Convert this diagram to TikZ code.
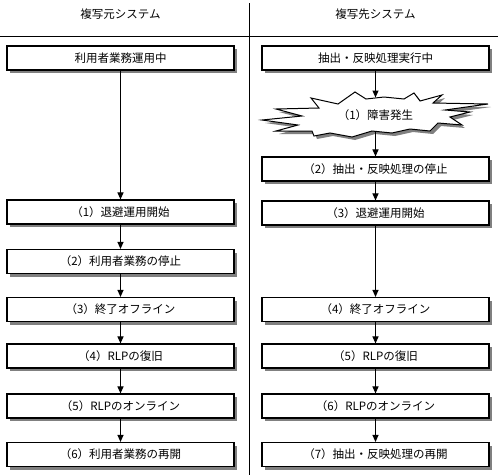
\documentclass[tikz,border=0pt]{standalone}
\usepackage{fontspec}
\setmainfont{Noto Sans CJK JP}
\usetikzlibrary{arrows.meta,shadows}

\tikzset{
  stepbox/.style={draw=black, line width=1.1pt, fill=white, minimum width=227pt, minimum height=24pt, inner sep=0pt,
    drop shadow={shadow xshift=3pt, shadow yshift=-3pt, fill=gray, opacity=1}},
  flow/.style={-{Triangle[width=6pt,length=7pt]}, line width=1pt},
}

\begin{document}
\begin{tikzpicture}[x=1pt, y=-1pt, font=\fontsize{11.5}{13}\selectfont]
\useasboundingbox (0,0) rectangle (498,475);
\draw[line width=1pt] (0,36) -- (498,36);
\draw[line width=1pt] (249,3) -- (249,475);
\node (hsrc) at (120.5,14) {複写元システム};
\node (hdst) at (375.5,14) {複写先システム};
% 複写元システム
\node[stepbox] (s0) at (120.5,58) {利用者業務運用中};
\node[stepbox] (s1) at (120.5,212) {（1）退避運用開始};
\node[stepbox] (s2) at (120.5,261.5) {（2）利用者業務の停止};
\node[stepbox] (s3) at (120.5,309.5) {（3）終了オフライン};
\node[stepbox] (s4) at (120.5,356) {（4）RLPの復旧};
\node[stepbox] (s5) at (120.5,406) {（5）RLPのオンライン};
\node[stepbox] (s6) at (120.5,454.5) {（6）利用者業務の再開};
% 複写先システム
\node[stepbox] (d0) at (375.5,58) {抽出・反映処理実行中};
\draw[line width=1pt, fill=white, drop shadow={shadow xshift=3pt, shadow yshift=-3pt, fill=gray, opacity=1}]
  (311,98) -- (338,104) -- (355,92) -- (366,99) -- (384,97) -- (404,99) -- (414,93) -- (420,101)
  -- (442,95) -- (433,103) -- (488,104) -- (445,110) -- (470,112) -- (450,117) -- (462,125)
  -- (438,123) -- (430,131) -- (410,129) -- (392,133) -- (372,131) -- (352,137) -- (330,133)
  -- (314,136) -- (312,131) -- (276,131) -- (298,125) -- (262,120) -- (302,116) -- (276,109)
  -- (319,108) -- cycle;
\node (fail) at (375.5,115) {（1）障害発生};
\coordinate (failtop) at (375.5,97.5);
\coordinate (failbot) at (375.5,131.5);
\node[stepbox] (d2) at (375.5,169) {（2）抽出・反映処理の停止};
\node[stepbox] (d3) at (375.5,213) {（3）退避運用開始};
\node[stepbox] (d4) at (375.5,309.5) {（4）終了オフライン};
\node[stepbox] (d5) at (375.5,356) {（5）RLPの復旧};
\node[stepbox] (d6) at (375.5,406) {（6）RLPのオンライン};
\node[stepbox] (d7) at (375.5,454.5) {（7）抽出・反映処理の再開};
\foreach \a/\b in {s0/s1,s1/s2,s2/s3,s3/s4,s4/s5,s5/s6,d2/d3,d3/d4,d4/d5,d5/d6,d6/d7}
  \draw[flow] (\a.south) -- (\b.north);
\draw[flow] (d0.south) -- (failtop);
\draw[flow] (failbot) -- (d2.north);
\end{tikzpicture}
\end{document}
